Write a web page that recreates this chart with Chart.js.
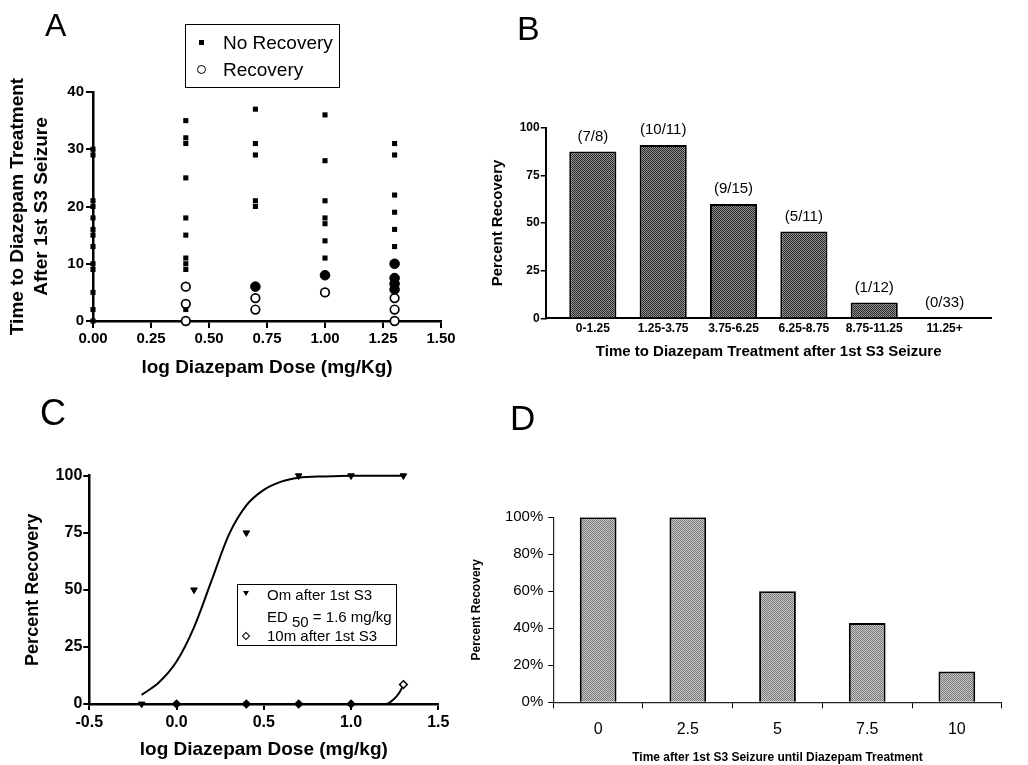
<!DOCTYPE html>
<html>
<head>
<meta charset="utf-8">
<script src="https://cdn.jsdelivr.net/npm/chart.js@4.4.1/dist/chart.umd.min.js"></script>
<style>
  body { margin: 0; background: #fff; width: 1028px; height: 765px; position: relative; overflow: hidden;
         font-family: 'Liberation Sans', Arial, Helvetica, sans-serif; color: #000; }
  canvas { position: absolute; }
  .abs { position: absolute; white-space: nowrap; }
  .letter { line-height: 1; }
</style>
</head>
<body>
<canvas id="chartA" style="left:0;top:0" width="480" height="380"></canvas>
<canvas id="chartB" style="left:480px;top:0" width="548" height="380"></canvas>
<canvas id="chartC" style="left:0;top:380px" width="480" height="385"></canvas>
<canvas id="chartD" style="left:460px;top:380px" width="568" height="385"></canvas>

<!-- panel letters -->
<div class="abs letter" style="left:45px;top:9px;font-size:32px">A</div>
<div class="abs letter" style="left:517px;top:11px;font-size:34px">B</div>
<div class="abs letter" style="left:40px;top:395px;font-size:36px">C</div>
<div class="abs letter" style="left:510px;top:400px;font-size:35px">D</div>

<!-- legend A -->
<div class="abs" style="left:185px;top:24px;width:153px;height:62px;border:1.5px solid #000"></div>
<div class="abs" style="left:199px;top:40px;width:5px;height:5px;background:#000"></div>
<div class="abs" style="left:197px;top:65px;width:7px;height:7px;border:1.7px solid #000;border-radius:50%"></div>
<div class="abs" style="left:223px;top:32px;font-size:19px;line-height:22px">No Recovery</div>
<div class="abs" style="left:223px;top:59px;font-size:19px;line-height:22px">Recovery</div>

<!-- legend C -->
<div class="abs" style="left:237px;top:584px;width:158px;height:60px;border:1.2px solid #000"></div>
<div class="abs" style="left:243px;top:591px;width:0;height:0;border-left:3px solid transparent;border-right:3px solid transparent;border-top:5px solid #000"></div>
<div class="abs" style="left:243px;top:633px;width:4px;height:4px;border:1.5px solid #000;transform:rotate(45deg)"></div>
<div class="abs" style="left:267px;top:586px;font-size:15px;line-height:18px">Om after 1st S3</div>
<div class="abs" style="left:267px;top:608px;font-size:15px;line-height:18px">ED <span style="position:relative;top:5px">50</span> = 1.6 mg/kg</div>
<div class="abs" style="left:267px;top:627px;font-size:15px;line-height:18px">10m after 1st S3</div>

<script>
// ---- Panel A: time to treatment vs log dose ----
const doseA = [0, 0.4, 0.7, 1.0, 1.3];
const noRecoveryA = [
  [0, 2, 5, 9, 10, 13, 15, 16, 18, 20, 21, 29, 30],
  [2, 9, 10, 11, 15, 18, 25, 31, 32, 35],
  [20, 21, 29, 31, 37],
  [11, 14, 17, 18, 21, 28, 36],
  [13, 16, 19, 22, 29, 31]
];
const recoveryOpenA = [[], [0, 3, 6], [2, 4], [5], [0, 2, 4]];
const recoveryFilledA = [[], [], [6], [8], [10, 7.5, 6.5, 5.5]];

// ---- Panel B: percent recovery by time bin ----
const binsB = ['0-1.25', '1.25-3.75', '3.75-6.25', '6.25-8.75', '8.75-11.25', '11.25+'];
const percentB = [87.5, 90.9, 60, 45.5, 8.3, 0];
const fractionsB = ['(7/8)', '(10/11)', '(9/15)', '(5/11)', '(1/12)', '(0/33)'];

// ---- Panel C: dose response ----
const doseC0 = [-0.2, 0.1, 0.4, 0.7, 1.0, 1.3];
const recoveryC0 = [0, 50, 75, 100, 100, 100];
const doseC10 = [0, 0.4, 0.7, 1.0, 1.3];
const recoveryC10 = [0, 0, 0, 0, 8.5];
const fitC0X = [-0.2, -0.1, 0, 0.1, 0.2, 0.3, 0.4, 0.5, 0.6, 0.7, 0.85, 1.0, 1.15, 1.3];
const fitC0Y = [4, 9.5, 18.6, 33.6, 53.9, 74.2, 87, 93.8, 97.4, 99.1, 99.7, 100, 100, 100];
const fitC10X = [0, 0.4, 0.7, 1.0, 1.2, 1.24, 1.28, 1.3];
const fitC10Y = [0, 0, 0, 0, 0, 1.7, 5.4, 8.5];

// ---- Panel D ----
const timeD = ['0', '2.5', '5', '7.5', '10'];
const percentD = [100, 100, 60, 42.9, 16.7];

const FONT = "'Liberation Sans', Arial, Helvetica, sans-serif";
Chart.defaults.font.family = FONT;
Chart.defaults.color = '#000';

// fixes an axis box size so the plot area lands where the figure has it
function fixed(size) {
  return s => { if (s.isHorizontal()) s.height = size; else s.width = size; };
}

function stipple(dark, light) {
  const p = document.createElement('canvas');
  p.width = 2; p.height = 2;
  const g = p.getContext('2d');
  g.fillStyle = light; g.fillRect(0, 0, 2, 2);
  g.fillStyle = dark; g.fillRect(0, 0, 1, 1); g.fillRect(1, 1, 1, 1);
  return g.createPattern(p, 'repeat');
}

const base = { responsive: false, animation: false, events: [],
  plugins: { legend: { display: false }, tooltip: { enabled: false } } };

function pts(xs, ys) { return xs.map((x, i) => ({ x: x, y: ys[i] })); }
function perDose(lists) { return lists.flatMap((ys, i) => ys.map(y => ({ x: doseA[i], y: y }))); }

// A
new Chart(document.getElementById('chartA'), {
  type: 'scatter',
  data: { datasets: [
    { label: 'Recovery', data: perDose(recoveryOpenA), pointStyle: 'circle', pointRadius: 4.3,
      backgroundColor: '#fff', borderColor: '#000', borderWidth: 1.7, clip: false },
    { label: 'Recovery', data: perDose(recoveryFilledA), pointStyle: 'circle', pointRadius: 4.8,
      backgroundColor: '#000', borderColor: '#000', borderWidth: 1, clip: false },
    { label: 'No Recovery', data: perDose(noRecoveryA), pointStyle: 'rect', pointRadius: 3.6,
      backgroundColor: '#000', borderColor: '#000', borderWidth: 0, clip: false }
  ] },
  options: Object.assign({}, base, {
    layout: { padding: { left: 4, top: 92, right: 39, bottom: 0 } },
    scales: {
      x: { type: 'linear', min: 0, max: 1.5, afterFit: fixed(59),
        ticks: { stepSize: 0.25, callback: v => v.toFixed(2), font: { size: 15, weight: 'bold' }, padding: 2, maxRotation: 0, autoSkip: false },
        grid: { drawOnChartArea: false, tickLength: 7, color: '#000', lineWidth: 2 },
        border: { color: '#000', width: 2.5 },
        title: { display: true, text: 'log Diazepam Dose (mg/Kg)', font: { size: 19, weight: 'bold' }, padding: { top: 0, bottom: 1 } } },
      y: { min: 0, max: 40, afterFit: fixed(89),
        ticks: { stepSize: 10, font: { size: 15, weight: 'bold' }, padding: 2 },
        grid: { drawOnChartArea: false, tickLength: 7, color: '#000', lineWidth: 2 },
        border: { color: '#000', width: 2.5 },
        title: { display: true, text: ['Time to Diazepam Treatment', 'After 1st S3 Seizure'],
          font: { size: 19, weight: 'bold', lineHeight: 1.25 }, padding: { top: 2, bottom: 0 } } }
    }
  })
});

// B
const fractionLabels = {
  id: 'fractionLabels',
  afterDatasetsDraw(chart) {
    const ctx = chart.ctx;
    ctx.save();
    ctx.font = '15px ' + FONT;
    ctx.fillStyle = '#000';
    ctx.textAlign = 'center';
    ctx.textBaseline = 'middle';
    chart.getDatasetMeta(0).data.forEach((bar, i) => ctx.fillText(fractionsB[i], bar.x, bar.y - 15));
    ctx.restore();
  }
};
new Chart(document.getElementById('chartB'), {
  type: 'bar',
  data: { datasets: [{ data: pts(binsB.map((b, i) => i), percentB), backgroundColor: stipple('#262626', '#959595'),
    borderColor: '#000', borderWidth: 2, barPercentage: 0.67, categoryPercentage: 1 }] },
  plugins: [fractionLabels],
  options: Object.assign({}, base, {
    layout: { padding: { left: 4, top: 127.7, right: 36.3, bottom: 0 } },
    scales: {
      x: { type: 'linear', min: -0.67, max: 5.67, offset: false, afterFit: fixed(61.7),
        // one tick per time bin
        afterBuildTicks: s => { s.ticks = binsB.map((b, i) => ({ value: i })); },
        ticks: { callback: v => binsB[v], font: { size: 12, weight: 'bold' }, padding: 3, maxRotation: 0, autoSkip: false },
        grid: { display: true, offset: false, drawOnChartArea: false, drawTicks: false },
        border: { color: '#000', width: 2 },
        title: { display: true, text: 'Time to Diazepam Treatment after 1st S3 Seizure', font: { size: 15, weight: 'bold' }, padding: { top: 0, bottom: 19 } } },
      y: { min: 0, max: 100, afterFit: fixed(61.7),
        ticks: { stepSize: 25, font: { size: 12, weight: 'bold' }, padding: 1 },
        grid: { drawOnChartArea: false, tickLength: 5, color: '#000', lineWidth: 1.5 },
        border: { color: '#000', width: 2 },
        title: { display: true, text: 'Percent Recovery', font: { size: 15, weight: 'bold' }, padding: { top: 5, bottom: 0 } } }
    }
  })
});

// C
new Chart(document.getElementById('chartC'), {
  type: 'scatter',
  data: { datasets: [
    { label: '0m after 1st S3', data: pts(doseC0, recoveryC0), pointStyle: 'triangle', rotation: 180, pointRadius: 3.8,
      backgroundColor: '#000', borderColor: '#000', borderWidth: 1, clip: false },
    { label: '10m after 1st S3', data: pts(doseC10, recoveryC10), pointStyle: 'rectRot', pointRadius: 3.8,
      pointBackgroundColor: recoveryC10.map(v => v > 0 ? '#fff' : '#000'), borderColor: '#000', borderWidth: 1.5, clip: false },
    { data: pts(fitC0X, fitC0Y), showLine: true, cubicInterpolationMode: 'monotone', pointRadius: 0,
      borderColor: '#000', borderWidth: 2, clip: false },
    { data: pts(fitC10X, fitC10Y), showLine: true, cubicInterpolationMode: 'monotone', pointRadius: 0,
      borderColor: '#000', borderWidth: 2, clip: false }
  ] },
  options: Object.assign({}, base, {
    layout: { padding: { left: 4, top: 95.7, right: 41.7, bottom: 0 } },
    scales: {
      x: { type: 'linear', min: -0.5, max: 1.5, afterFit: fixed(61),
        ticks: { stepSize: 0.5, callback: v => v.toFixed(1), font: { size: 16, weight: 'bold' }, padding: 3.4, maxRotation: 0 },
        grid: { drawOnChartArea: false, tickLength: 6, color: '#000', lineWidth: 2 },
        border: { color: '#000', width: 2.5 },
        title: { display: true, text: 'log Diazepam Dose (mg/kg)', font: { size: 19, weight: 'bold' }, padding: { top: 0, bottom: 3.6 } } },
      y: { min: 0, max: 100, afterFit: fixed(85.3),
        ticks: { stepSize: 25, font: { size: 16, weight: 'bold' }, padding: 1 },
        grid: { drawOnChartArea: false, tickLength: 6, color: '#000', lineWidth: 2 },
        border: { color: '#000', width: 2.5 },
        title: { display: true, text: 'Percent Recovery', font: { size: 18, weight: 'bold' }, padding: { top: 18.5, bottom: 0 } } }
    }
  })
});

// D
new Chart(document.getElementById('chartD'), {
  type: 'bar',
  data: { labels: timeD, datasets: [{ data: percentD, backgroundColor: stipple('#7a7a7a', '#c6c6c6'),
    borderColor: '#000', borderWidth: 2, barPercentage: 0.41, categoryPercentage: 1 }] },
  options: Object.assign({}, base, {
    layout: { padding: { left: 4, top: 137.3, right: 26.3, bottom: 0 } },
    scales: {
      x: { afterFit: fixed(62.7),
        ticks: { font: { size: 16 }, padding: 12, maxRotation: 0 },
        grid: { drawOnChartArea: false, tickLength: 6, color: '#000', lineWidth: 1 },
        border: { color: '#222', width: 1.2 },
        title: { display: true, text: 'Time after 1st S3 Seizure until Diazepam Treatment', font: { size: 12, weight: 'bold' }, padding: { top: 0, bottom: 0 } } },
      y: { min: 0, max: 100, afterFit: fixed(89.3),
        ticks: { stepSize: 20, callback: v => v + '%', font: { size: 15 }, padding: 5 },
        grid: { drawOnChartArea: false, tickLength: 5, color: '#000', lineWidth: 1 },
        border: { color: '#222', width: 1.2 },
        title: { display: true, text: 'Percent Recovery', font: { size: 12, weight: 'bold' }, padding: { top: 5.8, bottom: 0 } } }
    }
  })
});
</script>
</body>
</html>
